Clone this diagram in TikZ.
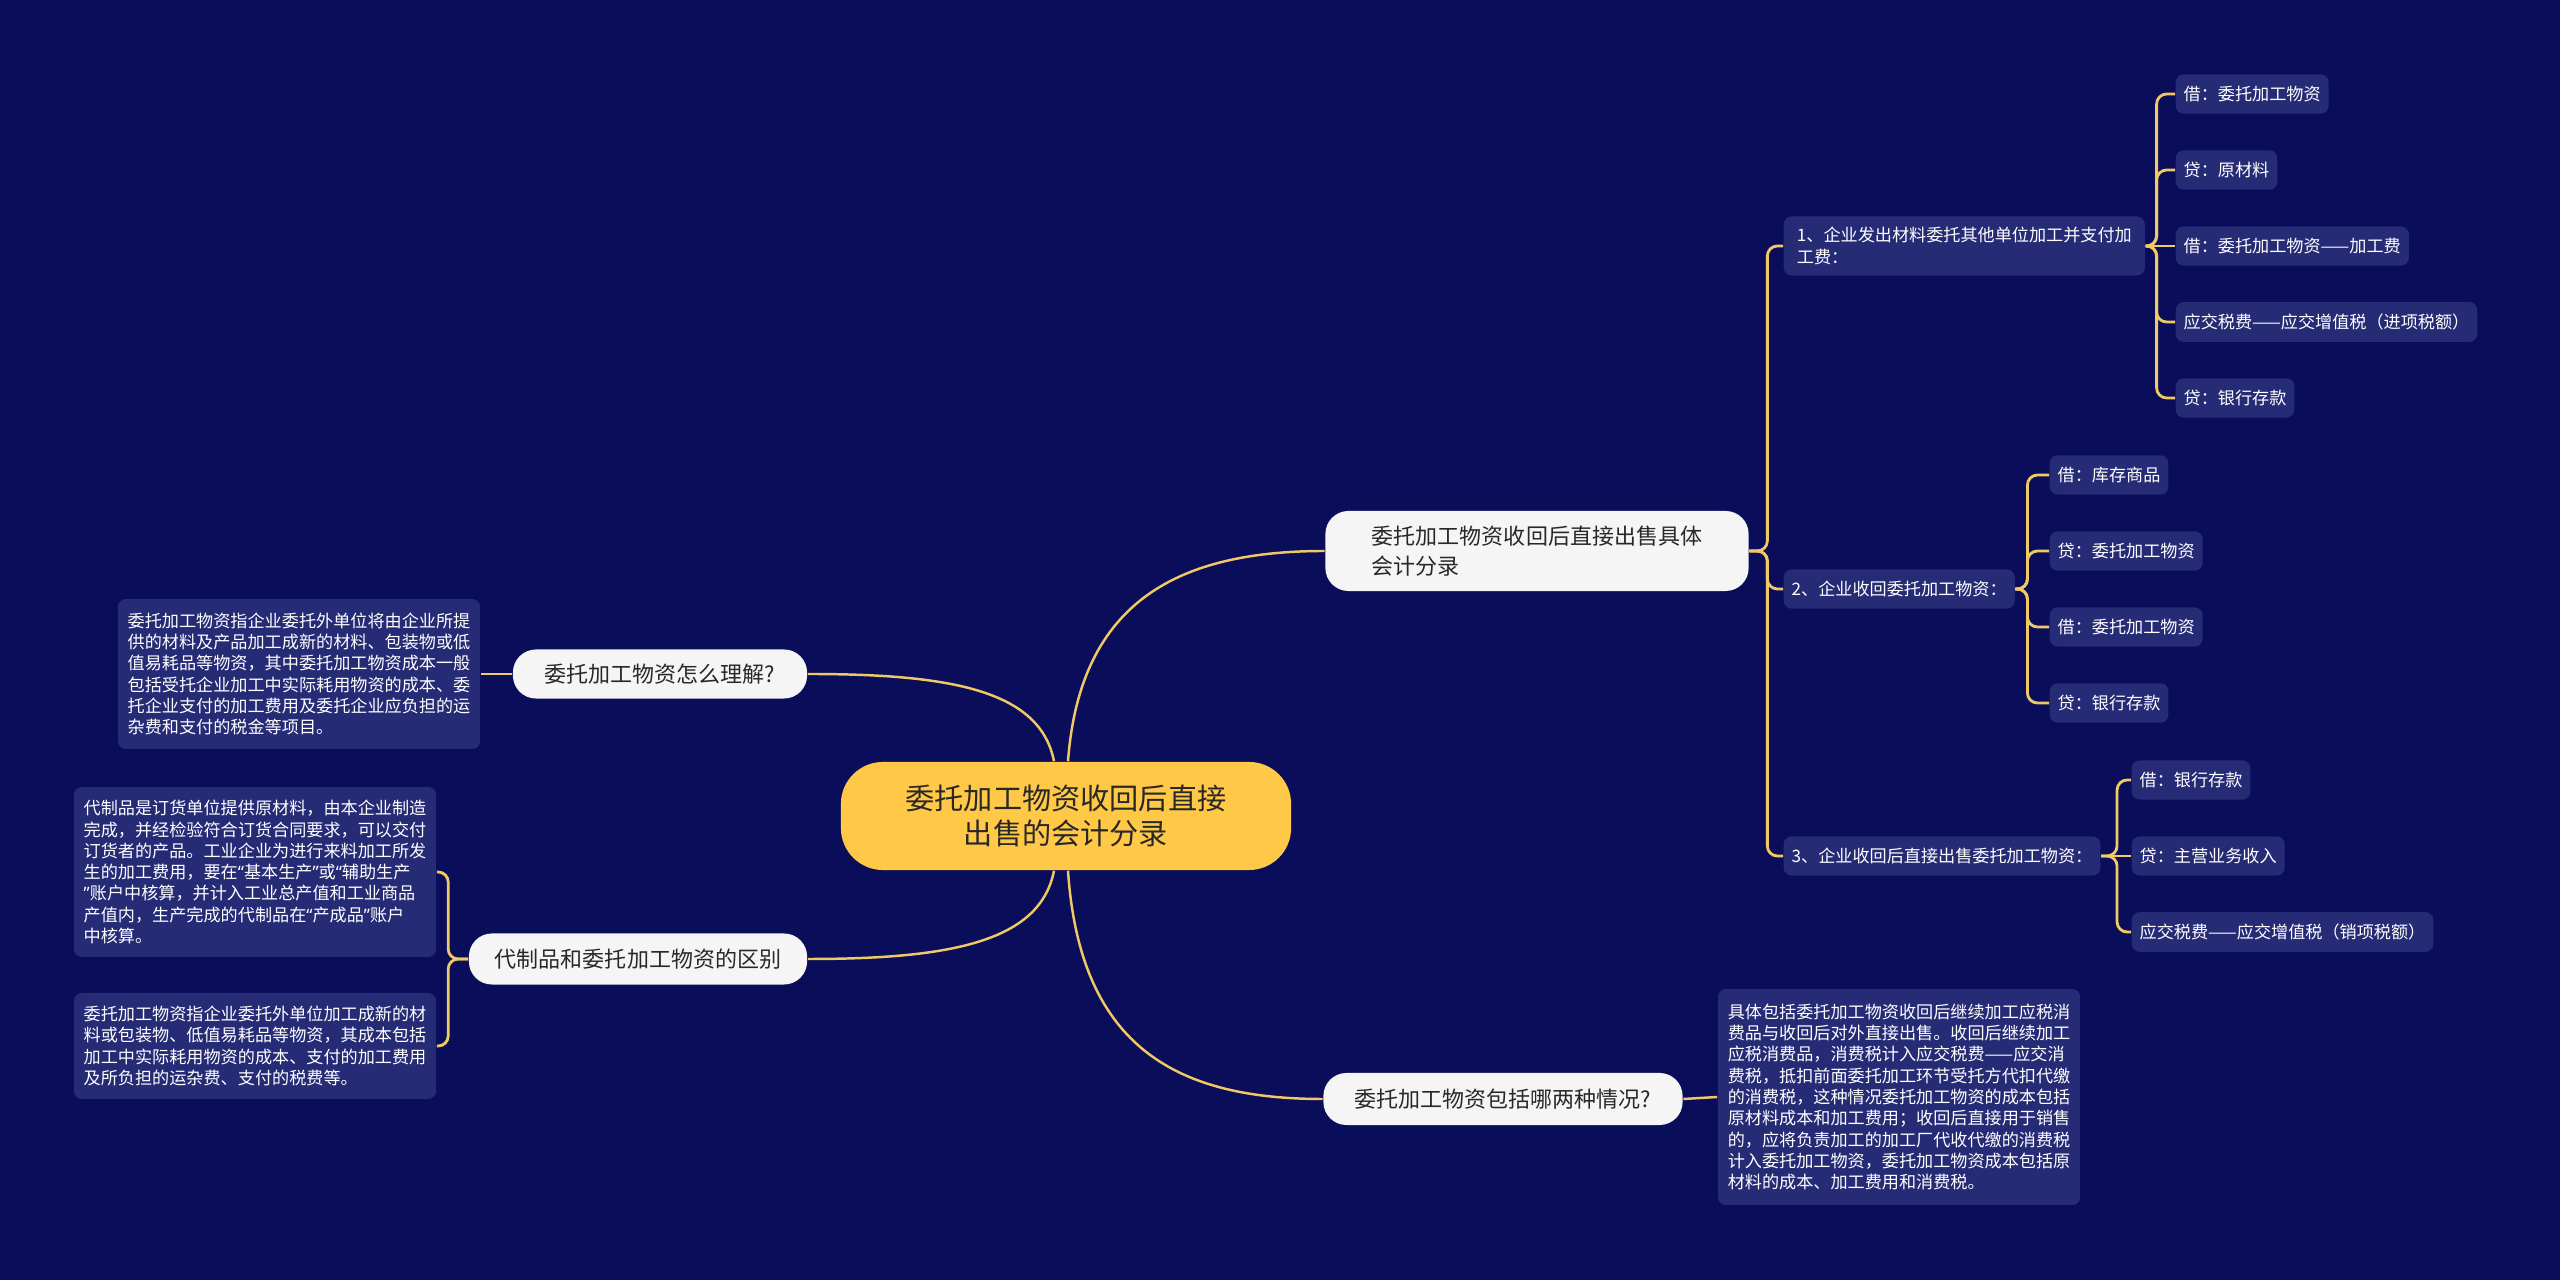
\documentclass[tikz,border=0pt]{standalone}
\usepackage{fontspec}
\usepackage{tikz}
\usetikzlibrary{positioning}
\newfontfamily\cjk{Noto Sans CJK SC}
\newfontfamily\quotefont{Noto Sans}
\newcommand{\openq}{{\quotefont “}}
\newcommand{\closeq}{{\quotefont ”}}
\definecolor{bgnavy}{RGB}{10,14,90}
\definecolor{noteblue}{RGB}{38,43,118}
\definecolor{linegold}{RGB}{240,200,100}
\definecolor{rootgold}{RGB}{255,200,70}
\definecolor{branchwhite}{RGB}{245,245,245}
\definecolor{darktext}{RGB}{40,40,40}

\begin{document}
\begin{tikzpicture}[x=0.01cm, y=-0.01cm,
    rootnode/.style={fill=rootgold, rounded corners=0.42cm, minimum width=4.5cm, minimum height=1.08cm, align=center, text=darktext, font=\cjk\fontsize{8.3}{10.2}\selectfont},
    branchnode/.style={fill=branchwhite, rounded corners=0.23cm, inner sep=0pt, text=darktext, font=\cjk\fontsize{6.26}{8.4}\selectfont},
    notebox/.style={fill=noteblue, rounded corners=0.08cm, align=left, inner xsep=0.09cm, inner ysep=0.05cm, minimum width=3.62cm, text=white, font=\cjk\fontsize{4.87}{6.05}\selectfont},
    entrybox/.style={fill=noteblue, rounded corners=0.08cm, anchor=west, inner xsep=0.08cm, minimum height=0.38cm, text=white, font=\cjk\fontsize{4.87}{6.05}\selectfont},
    curveline/.style={draw=linegold, line width=0.7pt},
    forkline/.style={draw=linegold, line width=0.8pt, rounded corners=0.1cm}]

    % Background
    \fill[bgnavy] (0,0) rectangle (2560,1280);
    \useasboundingbox (0,0) rectangle (2560,1280);

    % Center
    \node[rootnode] (ctr) at (1066,816) {委托加工物资收回后直接\\出售的会计分录};

    % Branches
    \node[branchnode, align=left, minimum width=4.23cm, minimum height=0.8cm] (spec) at (1537,551) {委托加工物资收回后直接出售具体\\会计分录};
    \node[branchnode, minimum width=2.94cm, minimum height=0.49cm] (meaning) at (660,674) {委托加工物资怎么理解?};
    \node[branchnode, minimum width=3.38cm, minimum height=0.51cm] (diff) at (638,959) {代制品和委托加工物资的区别};
    \node[branchnode, minimum width=3.59cm, minimum height=0.52cm] (cases) at (1503,1099) {委托加工物资包括哪两种情况?};

    % Notes
    \node[notebox, minimum height=1.5cm] (meaningnote) at (299,674) {委托加工物资指企业委托外单位将由企业所提\\供的材料及产品加工成新的材料、包装物或低\\值易耗品等物资，其中委托加工物资成本一般\\包括受托企业加工中实际耗用物资的成本、委\\托企业支付的加工费用及委托企业应负担的运\\杂费和支付的税金等项目。};
    \node[notebox, minimum height=1.7cm] (diffnoteA) at (255,872) {代制品是订货单位提供原材料，由本企业制造\\完成，并经检验符合订货合同要求，可以交付\\订货者的产品。工业企业为进行来料加工所发\\生的加工费用，要在\openq 基本生产\closeq 或\openq 辅助生产\\\closeq 账户中核算，并计入工业总产值和工业商品\\产值内，生产完成的代制品在\openq 产成品\closeq 账户\\中核算。};
    \node[notebox, minimum height=1.06cm] (diffnoteB) at (255,1046) {委托加工物资指企业委托外单位加工成新的材\\料或包装物、低值易耗品等物资，其成本包括\\加工中实际耗用物资的成本、支付的加工费用\\及所负担的运杂费、支付的税费等。};
    \node[notebox, minimum height=2.16cm] (casesnote) at (1899,1097) {具体包括委托加工物资收回后继续加工应税消\\费品与收回后对外直接出售。收回后继续加工\\应税消费品，消费税计入应交税费——应交消\\费税，抵扣前面委托加工环节受托方代扣代缴\\的消费税，这种情况委托加工物资的成本包括\\原材料成本和加工费用；收回后直接用于销售\\的，应将负责加工的加工厂代收代缴的消费税\\计入委托加工物资，委托加工物资成本包括原\\材料的成本、加工费用和消费税。};

    % Steps
    \node[notebox, anchor=west, minimum width=3.61cm, minimum height=0.59cm] (stepA) at (1783,246) {1、企业发出材料委托其他单位加工并支付加\\工费：};
    \node[entrybox] (stepB) at (1783,589) {2、企业收回委托加工物资：};
    \node[entrybox] (stepC) at (1783,856) {3、企业收回后直接出售委托加工物资：};

    % Entries
    \node[entrybox] (stepAone) at (2175,94) {借：委托加工物资};
    \node[entrybox] (stepAtwo) at (2175,170) {贷：原材料};
    \node[entrybox] (stepAthree) at (2175,246) {借：委托加工物资——加工费};
    \node[entrybox] (stepAfour) at (2175,322) {应交税费——应交增值税（进项税额）};
    \node[entrybox] (stepAfive) at (2175,398) {贷：银行存款};
    \node[entrybox] (stepBone) at (2049,475) {借：库存商品};
    \node[entrybox] (stepBtwo) at (2049,551) {贷：委托加工物资};
    \node[entrybox] (stepBthree) at (2049,627) {借：委托加工物资};
    \node[entrybox] (stepBfour) at (2049,703) {贷：银行存款};
    \node[entrybox] (stepCone) at (2131,780) {借：银行存款};
    \node[entrybox] (stepCtwo) at (2131,856) {贷：主营业务收入};
    \node[entrybox] (stepCthree) at (2131,932) {应交税费——应交增值税（销项税额）};

    % Curves from center
    \draw[curveline] ([xshift=-0.12cm]ctr.north) .. controls (1040,690) and (950,674) .. (meaning.east);
    \draw[curveline] ([xshift=-0.12cm]ctr.south) .. controls (1040,942) and (950,959) .. (diff.east);
    \draw[curveline] ([xshift=0.02cm]ctr.north) .. controls (1080,600) and (1180,551) .. (spec.west);
    \draw[curveline] ([xshift=0.02cm]ctr.south) .. controls (1080,1050) and (1180,1099) .. (cases.west);

    % Links to notes
    \draw[curveline] (meaning.west) -- (meaningnote.east);
    \draw[curveline] (cases.east) -- (casesnote.west);
    \draw[forkline] (diff.west) -- ++(-20,0) |- (diffnoteA.east);
    \draw[forkline] (diff.west) -- ++(-20,0) |- (diffnoteB.east);

    % Links to steps
    \draw[forkline] (spec.east) -- ++(18,0) |- (stepA.west);
    \draw[forkline] (spec.east) -- ++(18,0) |- (stepB.west);
    \draw[forkline] (spec.east) -- ++(18,0) |- (stepC.west);

    % Links to entries
    \draw[forkline] (stepA.east) -- ++(11,0) |- (stepAone.west);
    \draw[forkline] (stepA.east) -- ++(11,0) |- (stepAtwo.west);
    \draw[forkline] (stepA.east) -- (stepAthree.west);
    \draw[forkline] (stepA.east) -- ++(11,0) |- (stepAfour.west);
    \draw[forkline] (stepA.east) -- ++(11,0) |- (stepAfive.west);
    \draw[forkline] (stepB.east) -- ++(12,0) |- (stepBone.west);
    \draw[forkline] (stepB.east) -- ++(12,0) |- (stepBtwo.west);
    \draw[forkline] (stepB.east) -- ++(12,0) |- (stepBthree.west);
    \draw[forkline] (stepB.east) -- ++(12,0) |- (stepBfour.west);
    \draw[forkline] (stepC.east) -- ++(16,0) |- (stepCone.west);
    \draw[forkline] (stepC.east) -- (stepCtwo.west);
    \draw[forkline] (stepC.east) -- ++(16,0) |- (stepCthree.west);
\end{tikzpicture}
\end{document}
